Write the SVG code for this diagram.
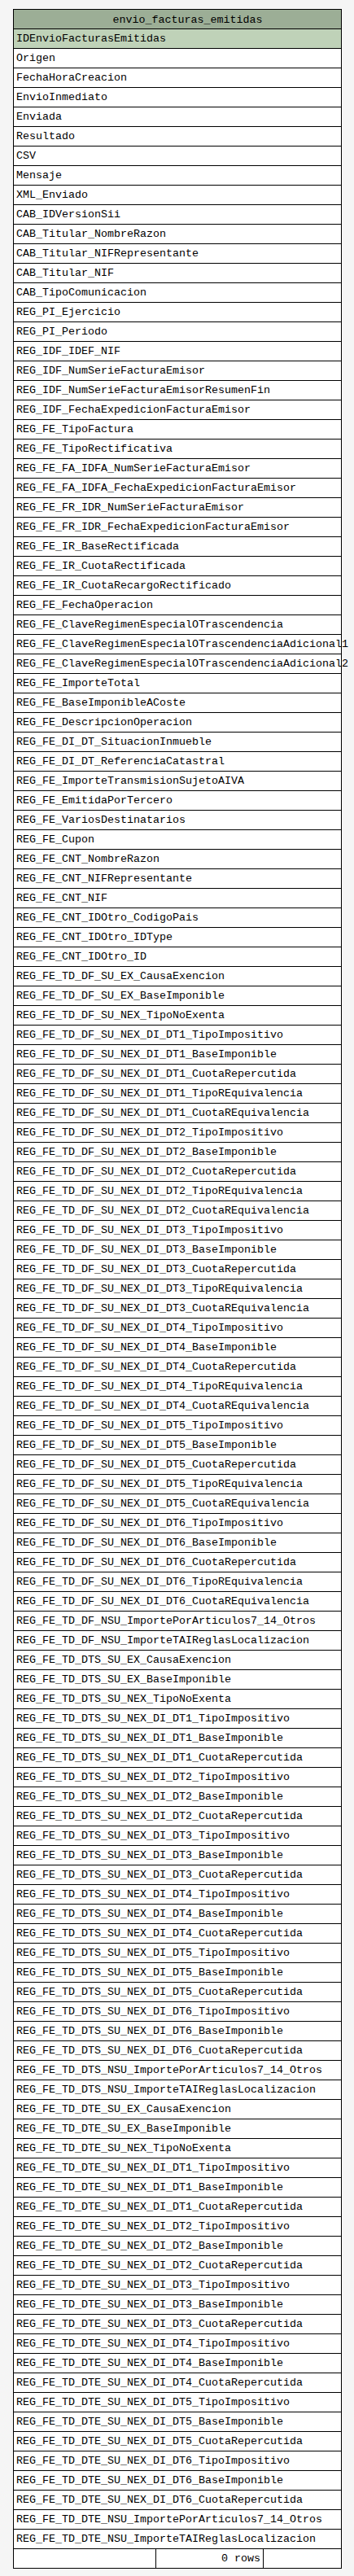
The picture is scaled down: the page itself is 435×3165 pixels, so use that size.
<svg xmlns="http://www.w3.org/2000/svg" width="435" height="3165" viewBox="0 0 435 3165">
<style>
.bg{fill:#f5f5f5}
.hd{fill:#9cae96;stroke:#000;stroke-width:1}
.pk{fill:#bfd2b8;stroke:#000;stroke-width:1}
.r{fill:#fff;stroke:#000;stroke-width:1}
.t{font-family:"Liberation Mono","DejaVu Sans Mono",monospace;font-size:13.33px;fill:#000}
</style>
<rect class="bg" x="0" y="0" width="435" height="3165"/>
<g id="connectors"></g>
<g id="envio_facturas_emitidas">
<rect class="hd" x="16.5" y="11.5" width="403" height="24"/>
<text class="t" x="138.5" y="27.5">envio_facturas_emitidas</text>
<rect class="pk" x="16.5" y="35.5" width="403" height="24"/>
<rect class="r" x="16.5" y="59.5" width="403" height="24"/>
<rect class="r" x="16.5" y="83.5" width="403" height="24"/>
<rect class="r" x="16.5" y="107.5" width="403" height="24"/>
<rect class="r" x="16.5" y="131.5" width="403" height="24"/>
<rect class="r" x="16.5" y="155.5" width="403" height="24"/>
<rect class="r" x="16.5" y="179.5" width="403" height="24"/>
<rect class="r" x="16.5" y="203.5" width="403" height="24"/>
<rect class="r" x="16.5" y="227.5" width="403" height="24"/>
<rect class="r" x="16.5" y="251.5" width="403" height="24"/>
<rect class="r" x="16.5" y="275.5" width="403" height="24"/>
<rect class="r" x="16.5" y="299.5" width="403" height="24"/>
<rect class="r" x="16.5" y="323.5" width="403" height="24"/>
<rect class="r" x="16.5" y="347.5" width="403" height="24"/>
<rect class="r" x="16.5" y="371.5" width="403" height="24"/>
<rect class="r" x="16.5" y="395.5" width="403" height="24"/>
<rect class="r" x="16.5" y="419.5" width="403" height="24"/>
<rect class="r" x="16.5" y="443.5" width="403" height="24"/>
<rect class="r" x="16.5" y="467.5" width="403" height="24"/>
<rect class="r" x="16.5" y="491.5" width="403" height="24"/>
<rect class="r" x="16.5" y="515.5" width="403" height="24"/>
<rect class="r" x="16.5" y="539.5" width="403" height="24"/>
<rect class="r" x="16.5" y="563.5" width="403" height="24"/>
<rect class="r" x="16.5" y="587.5" width="403" height="24"/>
<rect class="r" x="16.5" y="611.5" width="403" height="24"/>
<rect class="r" x="16.5" y="635.5" width="403" height="24"/>
<rect class="r" x="16.5" y="659.5" width="403" height="24"/>
<rect class="r" x="16.5" y="683.5" width="403" height="24"/>
<rect class="r" x="16.5" y="707.5" width="403" height="24"/>
<rect class="r" x="16.5" y="731.5" width="403" height="24"/>
<rect class="r" x="16.5" y="755.5" width="403" height="24"/>
<rect class="r" x="16.5" y="779.5" width="403" height="24"/>
<rect class="r" x="16.5" y="803.5" width="403" height="24"/>
<rect class="r" x="16.5" y="827.5" width="403" height="24"/>
<rect class="r" x="16.5" y="851.5" width="403" height="24"/>
<rect class="r" x="16.5" y="875.5" width="403" height="24"/>
<rect class="r" x="16.5" y="899.5" width="403" height="24"/>
<rect class="r" x="16.5" y="923.5" width="403" height="24"/>
<rect class="r" x="16.5" y="947.5" width="403" height="24"/>
<rect class="r" x="16.5" y="971.5" width="403" height="24"/>
<rect class="r" x="16.5" y="995.5" width="403" height="24"/>
<rect class="r" x="16.5" y="1019.5" width="403" height="24"/>
<rect class="r" x="16.5" y="1043.5" width="403" height="24"/>
<rect class="r" x="16.5" y="1067.5" width="403" height="24"/>
<rect class="r" x="16.5" y="1091.5" width="403" height="24"/>
<rect class="r" x="16.5" y="1115.5" width="403" height="24"/>
<rect class="r" x="16.5" y="1139.5" width="403" height="24"/>
<rect class="r" x="16.5" y="1163.5" width="403" height="24"/>
<rect class="r" x="16.5" y="1187.5" width="403" height="24"/>
<rect class="r" x="16.5" y="1211.5" width="403" height="24"/>
<rect class="r" x="16.5" y="1235.5" width="403" height="24"/>
<rect class="r" x="16.5" y="1259.5" width="403" height="24"/>
<rect class="r" x="16.5" y="1283.5" width="403" height="24"/>
<rect class="r" x="16.5" y="1307.5" width="403" height="24"/>
<rect class="r" x="16.5" y="1331.5" width="403" height="24"/>
<rect class="r" x="16.5" y="1355.5" width="403" height="24"/>
<rect class="r" x="16.5" y="1379.5" width="403" height="24"/>
<rect class="r" x="16.5" y="1403.5" width="403" height="24"/>
<rect class="r" x="16.5" y="1427.5" width="403" height="24"/>
<rect class="r" x="16.5" y="1451.5" width="403" height="24"/>
<rect class="r" x="16.5" y="1475.5" width="403" height="24"/>
<rect class="r" x="16.5" y="1499.5" width="403" height="24"/>
<rect class="r" x="16.5" y="1523.5" width="403" height="24"/>
<rect class="r" x="16.5" y="1547.5" width="403" height="24"/>
<rect class="r" x="16.5" y="1571.5" width="403" height="24"/>
<rect class="r" x="16.5" y="1595.5" width="403" height="24"/>
<rect class="r" x="16.5" y="1619.5" width="403" height="24"/>
<rect class="r" x="16.5" y="1643.5" width="403" height="24"/>
<rect class="r" x="16.5" y="1667.5" width="403" height="24"/>
<rect class="r" x="16.5" y="1691.5" width="403" height="24"/>
<rect class="r" x="16.5" y="1715.5" width="403" height="24"/>
<rect class="r" x="16.5" y="1739.5" width="403" height="24"/>
<rect class="r" x="16.5" y="1763.5" width="403" height="24"/>
<rect class="r" x="16.5" y="1787.5" width="403" height="24"/>
<rect class="r" x="16.5" y="1811.5" width="403" height="24"/>
<rect class="r" x="16.5" y="1835.5" width="403" height="24"/>
<rect class="r" x="16.5" y="1859.5" width="403" height="24"/>
<rect class="r" x="16.5" y="1883.5" width="403" height="24"/>
<rect class="r" x="16.5" y="1907.5" width="403" height="24"/>
<rect class="r" x="16.5" y="1931.5" width="403" height="24"/>
<rect class="r" x="16.5" y="1955.5" width="403" height="24"/>
<rect class="r" x="16.5" y="1979.5" width="403" height="24"/>
<rect class="r" x="16.5" y="2003.5" width="403" height="24"/>
<rect class="r" x="16.5" y="2027.5" width="403" height="24"/>
<rect class="r" x="16.5" y="2051.5" width="403" height="24"/>
<rect class="r" x="16.5" y="2075.5" width="403" height="24"/>
<rect class="r" x="16.5" y="2099.5" width="403" height="24"/>
<rect class="r" x="16.5" y="2123.5" width="403" height="24"/>
<rect class="r" x="16.5" y="2147.5" width="403" height="24"/>
<rect class="r" x="16.5" y="2171.5" width="403" height="24"/>
<rect class="r" x="16.5" y="2195.5" width="403" height="24"/>
<rect class="r" x="16.5" y="2219.5" width="403" height="24"/>
<rect class="r" x="16.5" y="2243.5" width="403" height="24"/>
<rect class="r" x="16.5" y="2267.5" width="403" height="24"/>
<rect class="r" x="16.5" y="2291.5" width="403" height="24"/>
<rect class="r" x="16.5" y="2315.5" width="403" height="24"/>
<rect class="r" x="16.5" y="2339.5" width="403" height="24"/>
<rect class="r" x="16.5" y="2363.5" width="403" height="24"/>
<rect class="r" x="16.5" y="2387.5" width="403" height="24"/>
<rect class="r" x="16.5" y="2411.5" width="403" height="24"/>
<rect class="r" x="16.5" y="2435.5" width="403" height="24"/>
<rect class="r" x="16.5" y="2459.5" width="403" height="24"/>
<rect class="r" x="16.5" y="2483.5" width="403" height="24"/>
<rect class="r" x="16.5" y="2507.5" width="403" height="24"/>
<rect class="r" x="16.5" y="2531.5" width="403" height="24"/>
<rect class="r" x="16.5" y="2555.5" width="403" height="24"/>
<rect class="r" x="16.5" y="2579.5" width="403" height="24"/>
<rect class="r" x="16.5" y="2603.5" width="403" height="24"/>
<rect class="r" x="16.5" y="2627.5" width="403" height="24"/>
<rect class="r" x="16.5" y="2651.5" width="403" height="24"/>
<rect class="r" x="16.5" y="2675.5" width="403" height="24"/>
<rect class="r" x="16.5" y="2699.5" width="403" height="24"/>
<rect class="r" x="16.5" y="2723.5" width="403" height="24"/>
<rect class="r" x="16.5" y="2747.5" width="403" height="24"/>
<rect class="r" x="16.5" y="2771.5" width="403" height="24"/>
<rect class="r" x="16.5" y="2795.5" width="403" height="24"/>
<rect class="r" x="16.5" y="2819.5" width="403" height="24"/>
<rect class="r" x="16.5" y="2843.5" width="403" height="24"/>
<rect class="r" x="16.5" y="2867.5" width="403" height="24"/>
<rect class="r" x="16.5" y="2891.5" width="403" height="24"/>
<rect class="r" x="16.5" y="2915.5" width="403" height="24"/>
<rect class="r" x="16.5" y="2939.5" width="403" height="24"/>
<rect class="r" x="16.5" y="2963.5" width="403" height="24"/>
<rect class="r" x="16.5" y="2987.5" width="403" height="24"/>
<rect class="r" x="16.5" y="3011.5" width="403" height="24"/>
<rect class="r" x="16.5" y="3035.5" width="403" height="24"/>
<rect class="r" x="16.5" y="3059.5" width="403" height="24"/>
<rect class="r" x="16.5" y="3083.5" width="403" height="24"/>
<rect class="r" x="16.5" y="3107.5" width="403" height="24"/>
<rect class="r" x="16.5" y="3131.5" width="175" height="24"/>
<rect class="r" x="191.5" y="3131.5" width="132" height="24"/>
<rect class="r" x="323.5" y="3131.5" width="96" height="24"/>
<text class="t" x="20" y="51">IDEnvioFacturasEmitidas</text>
<text class="t" x="20" y="75">Origen</text>
<text class="t" x="20" y="99">FechaHoraCreacion</text>
<text class="t" x="20" y="123">EnvioInmediato</text>
<text class="t" x="20" y="147">Enviada</text>
<text class="t" x="20" y="171">Resultado</text>
<text class="t" x="20" y="195">CSV</text>
<text class="t" x="20" y="219">Mensaje</text>
<text class="t" x="20" y="243">XML_Enviado</text>
<text class="t" x="20" y="267">CAB_IDVersionSii</text>
<text class="t" x="20" y="291">CAB_Titular_NombreRazon</text>
<text class="t" x="20" y="315">CAB_Titular_NIFRepresentante</text>
<text class="t" x="20" y="339">CAB_Titular_NIF</text>
<text class="t" x="20" y="363">CAB_TipoComunicacion</text>
<text class="t" x="20" y="387">REG_PI_Ejercicio</text>
<text class="t" x="20" y="411">REG_PI_Periodo</text>
<text class="t" x="20" y="435">REG_IDF_IDEF_NIF</text>
<text class="t" x="20" y="459">REG_IDF_NumSerieFacturaEmisor</text>
<text class="t" x="20" y="483">REG_IDF_NumSerieFacturaEmisorResumenFin</text>
<text class="t" x="20" y="507">REG_IDF_FechaExpedicionFacturaEmisor</text>
<text class="t" x="20" y="531">REG_FE_TipoFactura</text>
<text class="t" x="20" y="555">REG_FE_TipoRectificativa</text>
<text class="t" x="20" y="579">REG_FE_FA_IDFA_NumSerieFacturaEmisor</text>
<text class="t" x="20" y="603">REG_FE_FA_IDFA_FechaExpedicionFacturaEmisor</text>
<text class="t" x="20" y="627">REG_FE_FR_IDR_NumSerieFacturaEmisor</text>
<text class="t" x="20" y="651">REG_FE_FR_IDR_FechaExpedicionFacturaEmisor</text>
<text class="t" x="20" y="675">REG_FE_IR_BaseRectificada</text>
<text class="t" x="20" y="699">REG_FE_IR_CuotaRectificada</text>
<text class="t" x="20" y="723">REG_FE_IR_CuotaRecargoRectificado</text>
<text class="t" x="20" y="747">REG_FE_FechaOperacion</text>
<text class="t" x="20" y="771">REG_FE_ClaveRegimenEspecialOTrascendencia</text>
<text class="t" x="20" y="795">REG_FE_ClaveRegimenEspecialOTrascendenciaAdicional1</text>
<text class="t" x="20" y="819">REG_FE_ClaveRegimenEspecialOTrascendenciaAdicional2</text>
<text class="t" x="20" y="843">REG_FE_ImporteTotal</text>
<text class="t" x="20" y="867">REG_FE_BaseImponibleACoste</text>
<text class="t" x="20" y="891">REG_FE_DescripcionOperacion</text>
<text class="t" x="20" y="915">REG_FE_DI_DT_SituacionInmueble</text>
<text class="t" x="20" y="939">REG_FE_DI_DT_ReferenciaCatastral</text>
<text class="t" x="20" y="963">REG_FE_ImporteTransmisionSujetoAIVA</text>
<text class="t" x="20" y="987">REG_FE_EmitidaPorTercero</text>
<text class="t" x="20" y="1011">REG_FE_VariosDestinatarios</text>
<text class="t" x="20" y="1035">REG_FE_Cupon</text>
<text class="t" x="20" y="1059">REG_FE_CNT_NombreRazon</text>
<text class="t" x="20" y="1083">REG_FE_CNT_NIFRepresentante</text>
<text class="t" x="20" y="1107">REG_FE_CNT_NIF</text>
<text class="t" x="20" y="1131">REG_FE_CNT_IDOtro_CodigoPais</text>
<text class="t" x="20" y="1155">REG_FE_CNT_IDOtro_IDType</text>
<text class="t" x="20" y="1179">REG_FE_CNT_IDOtro_ID</text>
<text class="t" x="20" y="1203">REG_FE_TD_DF_SU_EX_CausaExencion</text>
<text class="t" x="20" y="1227">REG_FE_TD_DF_SU_EX_BaseImponible</text>
<text class="t" x="20" y="1251">REG_FE_TD_DF_SU_NEX_TipoNoExenta</text>
<text class="t" x="20" y="1275">REG_FE_TD_DF_SU_NEX_DI_DT1_TipoImpositivo</text>
<text class="t" x="20" y="1299">REG_FE_TD_DF_SU_NEX_DI_DT1_BaseImponible</text>
<text class="t" x="20" y="1323">REG_FE_TD_DF_SU_NEX_DI_DT1_CuotaRepercutida</text>
<text class="t" x="20" y="1347">REG_FE_TD_DF_SU_NEX_DI_DT1_TipoREquivalencia</text>
<text class="t" x="20" y="1371">REG_FE_TD_DF_SU_NEX_DI_DT1_CuotaREquivalencia</text>
<text class="t" x="20" y="1395">REG_FE_TD_DF_SU_NEX_DI_DT2_TipoImpositivo</text>
<text class="t" x="20" y="1419">REG_FE_TD_DF_SU_NEX_DI_DT2_BaseImponible</text>
<text class="t" x="20" y="1443">REG_FE_TD_DF_SU_NEX_DI_DT2_CuotaRepercutida</text>
<text class="t" x="20" y="1467">REG_FE_TD_DF_SU_NEX_DI_DT2_TipoREquivalencia</text>
<text class="t" x="20" y="1491">REG_FE_TD_DF_SU_NEX_DI_DT2_CuotaREquivalencia</text>
<text class="t" x="20" y="1515">REG_FE_TD_DF_SU_NEX_DI_DT3_TipoImpositivo</text>
<text class="t" x="20" y="1539">REG_FE_TD_DF_SU_NEX_DI_DT3_BaseImponible</text>
<text class="t" x="20" y="1563">REG_FE_TD_DF_SU_NEX_DI_DT3_CuotaRepercutida</text>
<text class="t" x="20" y="1587">REG_FE_TD_DF_SU_NEX_DI_DT3_TipoREquivalencia</text>
<text class="t" x="20" y="1611">REG_FE_TD_DF_SU_NEX_DI_DT3_CuotaREquivalencia</text>
<text class="t" x="20" y="1635">REG_FE_TD_DF_SU_NEX_DI_DT4_TipoImpositivo</text>
<text class="t" x="20" y="1659">REG_FE_TD_DF_SU_NEX_DI_DT4_BaseImponible</text>
<text class="t" x="20" y="1683">REG_FE_TD_DF_SU_NEX_DI_DT4_CuotaRepercutida</text>
<text class="t" x="20" y="1707">REG_FE_TD_DF_SU_NEX_DI_DT4_TipoREquivalencia</text>
<text class="t" x="20" y="1731">REG_FE_TD_DF_SU_NEX_DI_DT4_CuotaREquivalencia</text>
<text class="t" x="20" y="1755">REG_FE_TD_DF_SU_NEX_DI_DT5_TipoImpositivo</text>
<text class="t" x="20" y="1779">REG_FE_TD_DF_SU_NEX_DI_DT5_BaseImponible</text>
<text class="t" x="20" y="1803">REG_FE_TD_DF_SU_NEX_DI_DT5_CuotaRepercutida</text>
<text class="t" x="20" y="1827">REG_FE_TD_DF_SU_NEX_DI_DT5_TipoREquivalencia</text>
<text class="t" x="20" y="1851">REG_FE_TD_DF_SU_NEX_DI_DT5_CuotaREquivalencia</text>
<text class="t" x="20" y="1875">REG_FE_TD_DF_SU_NEX_DI_DT6_TipoImpositivo</text>
<text class="t" x="20" y="1899">REG_FE_TD_DF_SU_NEX_DI_DT6_BaseImponible</text>
<text class="t" x="20" y="1923">REG_FE_TD_DF_SU_NEX_DI_DT6_CuotaRepercutida</text>
<text class="t" x="20" y="1947">REG_FE_TD_DF_SU_NEX_DI_DT6_TipoREquivalencia</text>
<text class="t" x="20" y="1971">REG_FE_TD_DF_SU_NEX_DI_DT6_CuotaREquivalencia</text>
<text class="t" x="20" y="1995">REG_FE_TD_DF_NSU_ImportePorArticulos7_14_Otros</text>
<text class="t" x="20" y="2019">REG_FE_TD_DF_NSU_ImporteTAIReglasLocalizacion</text>
<text class="t" x="20" y="2043">REG_FE_TD_DTS_SU_EX_CausaExencion</text>
<text class="t" x="20" y="2067">REG_FE_TD_DTS_SU_EX_BaseImponible</text>
<text class="t" x="20" y="2091">REG_FE_TD_DTS_SU_NEX_TipoNoExenta</text>
<text class="t" x="20" y="2115">REG_FE_TD_DTS_SU_NEX_DI_DT1_TipoImpositivo</text>
<text class="t" x="20" y="2139">REG_FE_TD_DTS_SU_NEX_DI_DT1_BaseImponible</text>
<text class="t" x="20" y="2163">REG_FE_TD_DTS_SU_NEX_DI_DT1_CuotaRepercutida</text>
<text class="t" x="20" y="2187">REG_FE_TD_DTS_SU_NEX_DI_DT2_TipoImpositivo</text>
<text class="t" x="20" y="2211">REG_FE_TD_DTS_SU_NEX_DI_DT2_BaseImponible</text>
<text class="t" x="20" y="2235">REG_FE_TD_DTS_SU_NEX_DI_DT2_CuotaRepercutida</text>
<text class="t" x="20" y="2259">REG_FE_TD_DTS_SU_NEX_DI_DT3_TipoImpositivo</text>
<text class="t" x="20" y="2283">REG_FE_TD_DTS_SU_NEX_DI_DT3_BaseImponible</text>
<text class="t" x="20" y="2307">REG_FE_TD_DTS_SU_NEX_DI_DT3_CuotaRepercutida</text>
<text class="t" x="20" y="2331">REG_FE_TD_DTS_SU_NEX_DI_DT4_TipoImpositivo</text>
<text class="t" x="20" y="2355">REG_FE_TD_DTS_SU_NEX_DI_DT4_BaseImponible</text>
<text class="t" x="20" y="2379">REG_FE_TD_DTS_SU_NEX_DI_DT4_CuotaRepercutida</text>
<text class="t" x="20" y="2403">REG_FE_TD_DTS_SU_NEX_DI_DT5_TipoImpositivo</text>
<text class="t" x="20" y="2427">REG_FE_TD_DTS_SU_NEX_DI_DT5_BaseImponible</text>
<text class="t" x="20" y="2451">REG_FE_TD_DTS_SU_NEX_DI_DT5_CuotaRepercutida</text>
<text class="t" x="20" y="2475">REG_FE_TD_DTS_SU_NEX_DI_DT6_TipoImpositivo</text>
<text class="t" x="20" y="2499">REG_FE_TD_DTS_SU_NEX_DI_DT6_BaseImponible</text>
<text class="t" x="20" y="2523">REG_FE_TD_DTS_SU_NEX_DI_DT6_CuotaRepercutida</text>
<text class="t" x="20" y="2547">REG_FE_TD_DTS_NSU_ImportePorArticulos7_14_Otros</text>
<text class="t" x="20" y="2571">REG_FE_TD_DTS_NSU_ImporteTAIReglasLocalizacion</text>
<text class="t" x="20" y="2595">REG_FE_TD_DTE_SU_EX_CausaExencion</text>
<text class="t" x="20" y="2619">REG_FE_TD_DTE_SU_EX_BaseImponible</text>
<text class="t" x="20" y="2643">REG_FE_TD_DTE_SU_NEX_TipoNoExenta</text>
<text class="t" x="20" y="2667">REG_FE_TD_DTE_SU_NEX_DI_DT1_TipoImpositivo</text>
<text class="t" x="20" y="2691">REG_FE_TD_DTE_SU_NEX_DI_DT1_BaseImponible</text>
<text class="t" x="20" y="2715">REG_FE_TD_DTE_SU_NEX_DI_DT1_CuotaRepercutida</text>
<text class="t" x="20" y="2739">REG_FE_TD_DTE_SU_NEX_DI_DT2_TipoImpositivo</text>
<text class="t" x="20" y="2763">REG_FE_TD_DTE_SU_NEX_DI_DT2_BaseImponible</text>
<text class="t" x="20" y="2787">REG_FE_TD_DTE_SU_NEX_DI_DT2_CuotaRepercutida</text>
<text class="t" x="20" y="2811">REG_FE_TD_DTE_SU_NEX_DI_DT3_TipoImpositivo</text>
<text class="t" x="20" y="2835">REG_FE_TD_DTE_SU_NEX_DI_DT3_BaseImponible</text>
<text class="t" x="20" y="2859">REG_FE_TD_DTE_SU_NEX_DI_DT3_CuotaRepercutida</text>
<text class="t" x="20" y="2883">REG_FE_TD_DTE_SU_NEX_DI_DT4_TipoImpositivo</text>
<text class="t" x="20" y="2907">REG_FE_TD_DTE_SU_NEX_DI_DT4_BaseImponible</text>
<text class="t" x="20" y="2931">REG_FE_TD_DTE_SU_NEX_DI_DT4_CuotaRepercutida</text>
<text class="t" x="20" y="2955">REG_FE_TD_DTE_SU_NEX_DI_DT5_TipoImpositivo</text>
<text class="t" x="20" y="2979">REG_FE_TD_DTE_SU_NEX_DI_DT5_BaseImponible</text>
<text class="t" x="20" y="3003">REG_FE_TD_DTE_SU_NEX_DI_DT5_CuotaRepercutida</text>
<text class="t" x="20" y="3027">REG_FE_TD_DTE_SU_NEX_DI_DT6_TipoImpositivo</text>
<text class="t" x="20" y="3051">REG_FE_TD_DTE_SU_NEX_DI_DT6_BaseImponible</text>
<text class="t" x="20" y="3075">REG_FE_TD_DTE_SU_NEX_DI_DT6_CuotaRepercutida</text>
<text class="t" x="20" y="3099">REG_FE_TD_DTE_NSU_ImportePorArticulos7_14_Otros</text>
<text class="t" x="20" y="3123">REG_FE_TD_DTE_NSU_ImporteTAIReglasLocalizacion</text>
<text class="t" x="320" y="3147" text-anchor="end">0 rows</text>
</g>
</svg>
